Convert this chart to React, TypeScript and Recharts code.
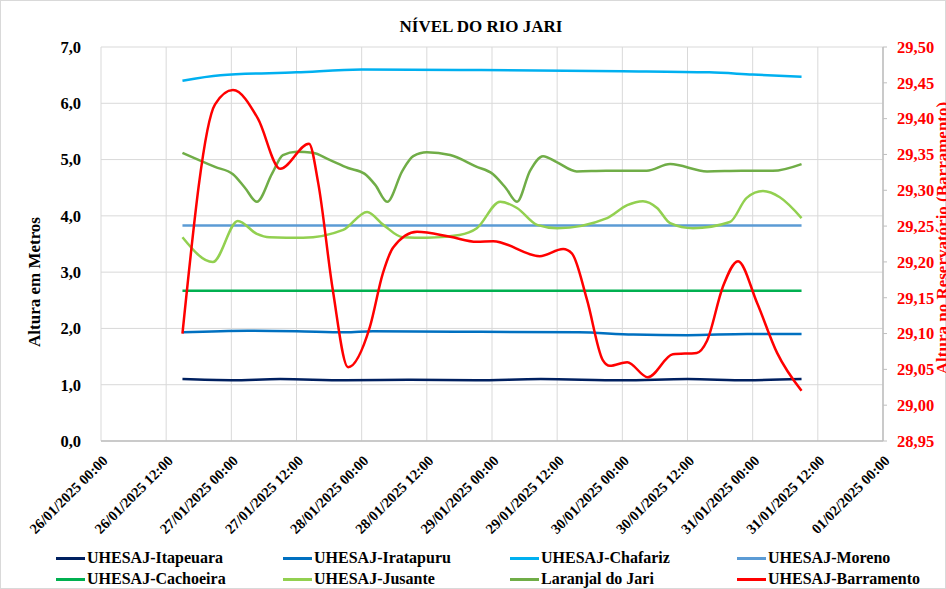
import { LineChart, Line, XAxis, YAxis, CartesianGrid } from 'recharts'

// hours counted from 26/01/2025 00:00
const xTicks = [0, 12, 24, 36, 48, 60, 72, 84, 96, 108, 120, 132, 144]
const leftTicks = [0, 1, 2, 3, 4, 5, 6, 7]
const rightTicks = [28.95, 29.0, 29.05, 29.1, 29.15, 29.2, 29.25, 29.3, 29.35, 29.4, 29.45, 29.5]

const itapeuaraH = [15, 24, 33, 45, 57, 69, 81, 96, 108, 119, 129]
const itapeuaraV = [1.1, 1.08, 1.1, 1.08, 1.09, 1.08, 1.1, 1.08, 1.1, 1.08, 1.1]

const iratapuruH = [15, 27, 36, 45, 50, 70, 88, 98, 108, 119, 129]
const iratapuruV = [1.93, 1.96, 1.95, 1.93, 1.95, 1.94, 1.93, 1.89, 1.88, 1.9, 1.9]

const chafarizH = [15, 22, 36, 48, 70, 96, 112, 120, 129]
const chafarizV = [6.4, 6.5, 6.55, 6.6, 6.59, 6.57, 6.55, 6.51, 6.47]

const morenoH = [15, 60, 129]
const morenoV = [3.83, 3.83, 3.83]

const cachoeiraH = [15, 60, 129]
const cachoeiraV = [2.67, 2.67, 2.67]

const jusanteH = [15, 20.6, 25.2, 28.7, 31, 37.2, 44.6, 49, 52, 55.6, 60, 66, 69.2, 73.5, 76.6, 80.3, 84, 93.2, 96.9, 99.8, 102.4, 104.8, 109, 115.8, 118.9, 121.9, 125, 129]
const jusanteV = [3.62, 3.18, 3.91, 3.68, 3.62, 3.61, 3.75, 4.07, 3.84, 3.62, 3.61, 3.66, 3.78, 4.25, 4.14, 3.84, 3.78, 3.96, 4.19, 4.26, 4.14, 3.87, 3.78, 3.89, 4.32, 4.44, 4.33, 3.96]

const laranjalH = [15, 21, 24.3, 26.5, 28.7, 31.5, 33.5, 36, 39, 42, 45.5, 48.5, 50.5, 52.7, 55.5, 57.5, 60, 64.3, 69, 72.2, 74.5, 76.6, 79, 81.4, 84, 87.6, 93, 100.5, 104.8, 111.6, 118, 123.7, 129]
const laranjalV = [5.12, 4.87, 4.74, 4.5, 4.25, 4.75, 5.08, 5.14, 5.12, 5.0, 4.85, 4.75, 4.55, 4.25, 4.8, 5.06, 5.13, 5.08, 4.88, 4.74, 4.5, 4.25, 4.8, 5.06, 4.95, 4.79, 4.8, 4.8, 4.92, 4.79, 4.8, 4.8, 4.92]

const barramentoH = [15, 21, 24.3, 28.9, 33, 38.3, 40, 42.7, 45.5, 49.5, 51.9, 53.8, 58.2, 64.3, 69.2, 72.2, 80.8, 85.1, 86.7, 89.5, 92.4, 93.7, 96.9, 100.7, 105.3, 109.7, 111.6, 114.5, 117.3, 120.8, 124.5, 129]
const barramentoV = [29.1, 29.42, 29.44, 29.4, 29.33, 29.365, 29.31, 29.16, 29.053, 29.109, 29.184, 29.22, 29.242, 29.235, 29.228, 29.229, 29.208, 29.218, 29.212, 29.147, 29.063, 29.055, 29.06, 29.039, 29.071, 29.073, 29.09, 29.165, 29.201, 29.143, 29.073, 29.02]

const zip = (h: number[], v: number[]) => h.map((x, i) => ({ h: x, v: v[i] }))

const series = [
  { name: 'UHESAJ-Itapeuara', color: '#002060', data: zip(itapeuaraH, itapeuaraV), axis: 'l' },
  { name: 'UHESAJ-Iratapuru', color: '#0070C0', data: zip(iratapuruH, iratapuruV), axis: 'l' },
  { name: 'UHESAJ-Chafariz', color: '#00B0F0', data: zip(chafarizH, chafarizV), axis: 'l' },
  { name: 'UHESAJ-Moreno', color: '#5B9BD5', data: zip(morenoH, morenoV), axis: 'l' },
  { name: 'UHESAJ-Cachoeira', color: '#00B050', data: zip(cachoeiraH, cachoeiraV), axis: 'l' },
  { name: 'UHESAJ-Jusante', color: '#92D050', data: zip(jusanteH, jusanteV), axis: 'l' },
  { name: 'Laranjal do Jari', color: '#70AD47', data: zip(laranjalH, laranjalV), axis: 'l' },
  { name: 'UHESAJ-Barramento', color: '#FF0000', data: zip(barramentoH, barramentoV), axis: 'r' },
]

const FONT = '"Liberation Serif", "Times New Roman", serif'

const pad = (n: number) => String(n).padStart(2, '0')
const fmtDate = (h: number) => {
  const d = new Date(Date.UTC(2025, 0, 26) + h * 3600 * 1000)
  return `${pad(d.getUTCDate())}/${pad(d.getUTCMonth() + 1)}/${d.getUTCFullYear()} ${pad(d.getUTCHours())}:${pad(d.getUTCMinutes())}`
}

const XTick = (props: any) => {
  const { x, y, payload } = props
  return (
    <g transform={`translate(${x + 4},${y + 9})`}>
      <text x={0} y={0} dy="0.35em" textAnchor="end" transform="rotate(-45)"
        fontFamily={FONT} fontWeight="bold" fontSize={14.5} fill="#000">
        {fmtDate(payload.value)}
      </text>
    </g>
  )
}

export default function App() {
  return (
    <div style={{ position: 'fixed', left: 0, top: 0, width: 946, height: 589, background: '#fff', fontFamily: FONT }}>
      <div style={{ position: 'absolute', inset: 0, border: '1px solid #d9d9d9', boxSizing: 'border-box' }} />
      <LineChart width={946} height={589} margin={{ top: 47, right: 13, bottom: 48, left: 41 }}>
        <CartesianGrid yAxisId="l" stroke="#d9d9d9" strokeWidth={1} />
        <XAxis dataKey="h" type="number" domain={[0, 144]} ticks={xTicks} allowDataOverflow
          height={100} tick={<XTick />} tickLine={false} axisLine={{ stroke: '#bfbfbf', strokeWidth: 1.5 }} interval={0} />
        <YAxis yAxisId="l" domain={[0, 7]} ticks={leftTicks} width={60} axisLine={false} tickLine={false}
          tickMargin={14} interval={0}
          tickFormatter={(v: number) => v.toFixed(1).replace('.', ',')}
          tick={{ fill: '#000', fontSize: 16.5, fontWeight: 'bold', fontFamily: FONT }} />
        <YAxis yAxisId="r" orientation="right" domain={[28.95, 29.5]} ticks={rightTicks} width={50}
          axisLine={{ stroke: '#bfbfbf', strokeWidth: 1.5 }} tickLine={{ stroke: '#bfbfbf' }} tickSize={4} tickMargin={10} interval={0}
          tickFormatter={(v: number) => v.toFixed(2).replace('.', ',')}
          tick={{ fill: '#FF0000', fontSize: 16.5, fontWeight: 'bold', fontFamily: FONT, textAnchor: 'start' }} />
        {series.map((s) => (
          <Line key={s.name} data={s.data} dataKey="v" name={s.name} yAxisId={s.axis} type="monotone"
            stroke={s.color} strokeWidth={2.5} dot={false} activeDot={false} isAnimationActive={false} />
        ))}
        <text x={481} y={32} textAnchor="middle" fontFamily={FONT} fontWeight="bold" fontSize={17} fill="#000">NÍVEL DO RIO JARI</text>
        <text x={40} y={282} textAnchor="middle" transform="rotate(-90 40 282)" fontFamily={FONT} fontWeight="bold" fontSize={17} fill="#000">Altura em Metros</text>
        <text x={948} y={238} textAnchor="middle" transform="rotate(-90 948 238)" fontFamily={FONT} fontWeight="bold" fontSize={17} fill="#FF0000">Altura no Reservatório (Barramento)</text>
      </LineChart>
      {series.map((s, i) => (
        <div key={s.name} style={{
          position: 'absolute', left: 56 + (i % 4) * 227, top: i < 4 ? 548 : 569, height: 20,
          display: 'flex', alignItems: 'center', whiteSpace: 'nowrap',
        }}>
          <span style={{ display: 'inline-block', width: 29, height: 3, background: s.color, marginRight: 2 }} />
          <span style={{ fontSize: 16, fontWeight: 'bold', color: '#000' }}>{s.name}</span>
        </div>
      ))}
    </div>
  )
}
